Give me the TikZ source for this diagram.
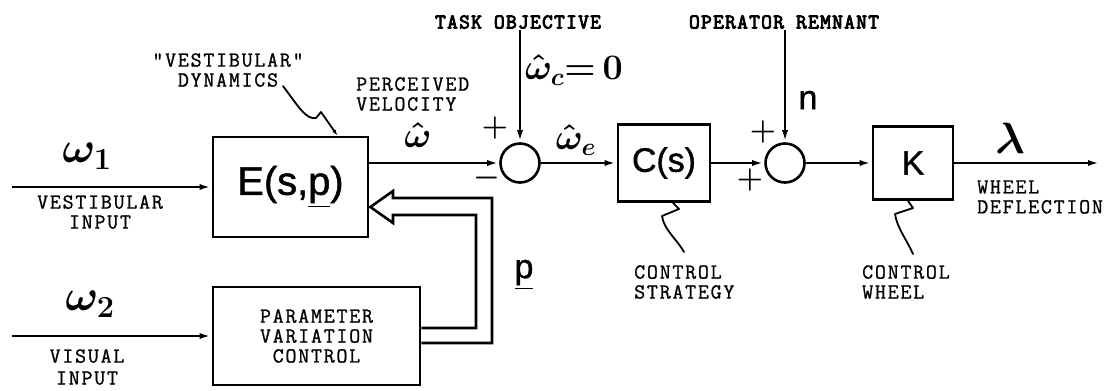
\RequirePackage{fix-cm}
\documentclass[tikz,border=0pt]{standalone}
\usepackage{amsmath}
\usepackage{fontspec}
\newfontfamily\handfont[FakeBold=1.2]{Liberation Sans}
\newfontfamily\typefont[FakeBold=1, LetterSpace=8]{Latin Modern Mono}
\newfontfamily\typebold[FakeBold=4, LetterSpace=6]{Latin Modern Mono}
\usetikzlibrary{arrows.meta,calc}

\tikzset{
  block/.style={draw, line width=2.8bp, inner sep=0pt},
  junction/.style={draw, circle, line width=2.6bp, minimum size=39bp, inner sep=0pt},
  sig/.style={line width=2.6bp, ->},
  fat/.style={line width=2.6bp, line join=miter},
  caption/.style={font=\fontsize{21.5}{20}\selectfont\typefont, align=center, inner sep=1bp},
  heading/.style={caption, font=\fontsize{21}{20}\selectfont\typebold},
  sym/.style={font=\fontsize{36}{38}\selectfont\boldmath, inner sep=0pt},
  bigsym/.style={font=\fontsize{44}{46}\selectfont\boldmath, inner sep=0pt},
  sgn/.style={font=\fontsize{30}{30}\selectfont\boldmath, inner sep=0pt},
  hand/.style={font=\fontsize{34}{36}\selectfont\handfont, inner sep=0pt},
  leader/.style={line width=1.8bp, line join=round, line cap=round},
}

\begin{document}
\begin{tikzpicture}[x=1bp, y=-1bp, >={Latex[length=12bp,width=6bp]}]
  \useasboundingbox (0,0) rectangle (1109,390);
  % Blocks
  \node[block, hand, font=\fontsize{40}{40}\selectfont\handfont, minimum width=155bp, minimum height=100bp] (E) at (290.5,187) {E(s,\underline{p})};
  \node[block, caption, minimum width=207bp, minimum height=98bp] (PVC) at (316.5,336) {PARAMETER\\VARIATION\\CONTROL};
  \node[block, hand, minimum width=92bp, minimum height=77bp] (C) at (664,163) {C(s)};
  \node[block, hand, minimum width=80bp, minimum height=73bp] (K) at (913,163) {K};
  % Summing junctions
  \node[junction] (sumA) at (520,163) {};
  \node[junction] (sumB) at (785,163) {};
  % Free ends
  \coordinate (in1) at (12,187);
  \coordinate (in2) at (12,336);
  \coordinate (out) at (1100,163);
  % Top labels
  \node[heading] (taskobj) at (518,22) {TASK OBJECTIVE};
  \node[heading] (remnant) at (784,22) {OPERATOR REMNANT};
  % Signals
  \draw[sig] (in1) -- (E);
  \draw[sig] (in2) -- (PVC);
  \draw[sig] (E.east |- sumA) -- (sumA);
  \draw[sig] (sumA) -- (C);
  \draw[sig] (C) -- (sumB);
  \draw[sig] (sumB) -- (K);
  \draw[sig] (K) -- (out);
  \draw[sig] (sumA |- taskobj.south) -- (sumA);
  \draw[sig] (sumB |- remnant.south) -- (sumB);
  % Parameter feedback (hollow arrow)
  \coordinate (tip) at ($(E.east)+(1,20)$);
  \draw[fat] ($(PVC.east)+(0,7)$) -| (492,198) -- (393,198) -- (393,191) -- (tip)
    -- (393,223) -- (393,215) -| (476,328) -- ($(PVC.east)+(0,-8)$);
  % Signal labels
  \node[bigsym] (w1) at (87,156) {$\omega_1$};
  \node[caption] (vestin) at (100,212) {VESTIBULAR\\INPUT};
  \node[bigsym] (w2) at (90,304) {$\omega_2$};
  \node[caption] (visin) at (87,367) {VISUAL\\[2bp]INPUT};
  \node[caption] (vestdyn) at (228,70) {"VESTIBULAR"\\DYNAMICS};
  \node[caption, align=left, anchor=west] (perc) at (355,94) {PERCEIVED\\VELOCITY};
  \node[sym] (what) at (418,135) {$\hat{\omega}$};
  \node[sym] (wc) at (574,70) {$\hat{\omega}_c{=}\,0$};
  \node[sym] (we) at (576,140) {$\hat{\omega}_e$};
  \node[sgn] (plusA) at (495,128) {$+$};
  \node[sgn] (minusA) at (487,178) {$-$};
  \node[sgn] (plusB) at (763,132) {$+$};
  \node[sgn] (plusC) at (750,180) {$+$};
  \node[hand] (noise) at (808,100) {n};
  \node[bigsym] (lam) at (1010,138) {$\lambda$};
  \node[hand] (pvec) at (524,275) {\underline{p}};
  \node[caption, align=left, anchor=west] (defl) at (976,197) {WHEEL\\DEFLECTION};
  \node[caption, align=left, anchor=west] (strat) at (633,282) {CONTROL\\STRATEGY};
  \node[caption, align=left, anchor=west] (cwheel) at (861,282) {CONTROL\\WHEEL};
  % Leaders
  \draw[leader, -{Latex[length=6bp,width=4bp]}] (283,86) .. controls (298,106) and (306,120) .. (316,118) -- (321,112) -- ($(E.north)+(47,0)$);
  \draw[leader] ($(C.south)+(9,0)$) -- (679,209) -- (662,216) .. controls (664,230) and (676,238) .. (684,252);
  \draw[leader] ($(K.south)+(-5,0)$) -- (913,208) -- (895,214) .. controls (897,228) and (907,240) .. (913,254);
\end{tikzpicture}
\end{document}
